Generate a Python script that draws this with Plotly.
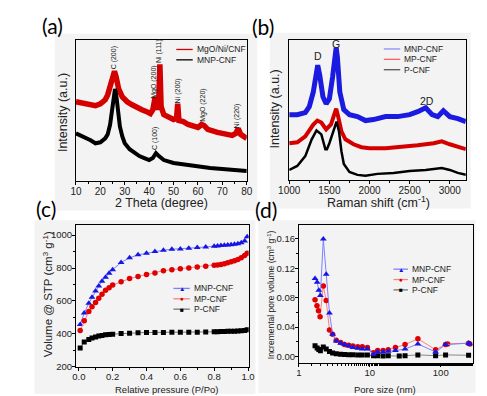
import plotly.graph_objects as go

W, H = 487, 396


def px(x):
    return x / W


def py(y):
    return 1 - y / H


# ---------------- (a) XRD ----------------
a_theta_red = [10, 12, 14, 16, 18, 20, 22, 23, 24, 25, 25.8, 26.5, 27.5, 29, 31, 33, 35, 37, 39, 40.5,
               41.5, 42.5, 43.3, 43.9, 44.4, 44.9, 46, 48, 50, 51.2, 51.7, 52.2, 54, 56, 58, 60, 61.5,
               62.5, 64, 66, 68, 70, 72, 74, 75.5, 76.5, 77.5, 80]
a_int_red = [80, 79, 78, 77, 76, 78, 82, 87, 95, 103, 111, 105, 93, 85, 80, 77, 74, 72, 70, 68,
             72, 85, 72, 80, 118, 75, 67, 65, 62, 63, 78, 61, 60, 57, 56, 54, 57,
             56, 52, 50, 49, 48, 47, 46, 48, 53, 47, 43]
a_theta_blk = [10, 12, 14, 16, 18, 20, 22, 23, 24, 25, 25.6, 26, 26.5, 27, 28, 29, 30, 32, 34, 36, 38,
               40, 41.5, 42.8, 44, 46, 50, 55, 60, 65, 70, 75, 80]
a_int_blk = [48, 46, 44, 41, 38, 39, 43, 47, 57, 75, 89, 93, 87, 75, 55, 45, 38, 32, 28, 25, 23,
             21, 23, 28, 25, 21, 18, 16, 14, 13, 12, 11, 10]
a_peak_labels = ["C (200)", "MgO (200)", "Ni (111)", "Ni (200)", "MgO (220)", "Ni (220)", "C (100)"]
a_peak_x = [25.6, 41.9, 44.3, 51.6, 62.1, 76.0, 42.7]
a_peak_y = [124, 100, 131, 91, 76, 65, 43]

# ---------------- (b) Raman ----------------
b_shift_mnp = [1000, 1100, 1200, 1250, 1300, 1340, 1355, 1380, 1420, 1460, 1500, 1540, 1570, 1585, 1600,
               1630, 1680, 1750, 1850, 1950, 2050, 2200, 2350, 2500, 2600, 2700, 2780, 2850, 2920, 3000,
               3100, 3200]
b_int_mnp = [66, 66, 68, 74, 89, 112, 116, 106, 84, 77, 82, 104, 129, 134, 124,
             89, 71, 66, 64, 60, 61, 64, 64, 66, 69, 73, 66, 64, 70, 64,
             62, 59]
b_shift_mp = [1000, 1100, 1200, 1300, 1350, 1400, 1460, 1520, 1560, 1585, 1610, 1650, 1700, 1800, 1900,
              2000, 2200, 2400, 2600, 2800, 2900, 3000, 3100, 3200]
b_int_mp = [37, 38, 44, 56, 60, 58, 51, 56, 66, 72, 64, 49, 41, 36, 33,
            32, 32, 33, 35, 37, 39, 36, 33, 31]
b_shift_p = [1000, 1100, 1200, 1280, 1340, 1400, 1450, 1470, 1500, 1550, 1590, 1620, 1650, 1680, 1750,
             1850, 1950, 2100, 2300, 2500, 2700, 2900, 3000, 3100, 3200]
b_int_p = [10, 14, 24, 41, 50, 46, 31, 31, 37, 49, 59, 49, 29, 16, 8,
           5, 4, 6, 7, 9, 10, 12, 10, 7, 5]
b_peak_labels = ["D", "G", "2D"]
b_peak_x = [1355, 1585, 2710]
b_peak_y = [125, 138, 80]

# ---------------- (c) N2 isotherms ----------------
c_p = [0.008, 0.032, 0.059, 0.078, 0.099, 0.118, 0.137, 0.158, 0.179, 0.2, 0.25, 0.30, 0.35, 0.40, 0.45,
       0.50, 0.55, 0.60, 0.65, 0.70, 0.75, 0.80, 0.82, 0.84, 0.86, 0.88, 0.90, 0.92, 0.94, 0.96, 0.98, 0.995]
c_mnp = [456, 526, 586, 622, 660, 690, 720, 744, 768, 790, 834, 862, 880, 890, 900,
         908, 914, 916, 920, 924, 928, 932, 934, 936, 938, 940, 942, 945, 948, 954, 964, 990]
c_mp = [420, 480, 536, 564, 590, 616, 640, 664, 680, 696, 716, 736, 748, 760, 770,
        784, 790, 796, 800, 806, 810, 816, 818, 822, 826, 832, 838, 844, 852, 862, 876, 890]
c_pcnf = [314, 350, 366, 374, 380, 386, 390, 394, 396, 398, 402, 404, 406, 408, 408,
          408, 410, 410, 410, 410, 411, 412, 413, 414, 414, 415, 416, 416, 417, 418, 420, 424]

# ---------------- (d) pore size distribution ----------------
d_size_mnp = [1.69, 1.81, 1.91, 2.01, 2.21, 2.43, 2.70, 2.99, 3.36, 3.88, 4.40, 5.05, 5.78, 6.76, 7.83,
              9.25, 11.3, 12.9, 15.4, 18.2, 23, 31.4, 47.6, 84.6, 117, 247, 258]
d_vol_mnp = [0.106, 0.101, 0.090, 0.083, 0.160, 0.112, 0.059, 0.030, 0.021, 0.018, 0.016, 0.014, 0.012,
             0.011, 0.010, 0.010, 0.003, 0.006, 0.006, 0.007, 0.008, 0.010, 0.017, 0.006, 0.016, 0.018, 0.017]
d_size_mp = [1.69, 1.80, 1.89, 1.99, 2.21, 2.43, 2.70, 2.99, 3.36, 3.88, 4.40, 5.05, 5.78, 6.76, 7.83,
             9.25, 11.3, 12.9, 15.4, 18.2, 23, 31.4, 47.6, 84.6, 117, 125, 247, 258]
d_vol_mp = [0.077, 0.069, 0.062, 0.054, 0.096, 0.076, 0.036, 0.030, 0.022, 0.019, 0.016, 0.015, 0.014,
            0.013, 0.013, 0.012, 0.005, 0.008, 0.008, 0.009, 0.012, 0.016, 0.024, 0.009, 0.016, 0.017,
            0.018, 0.017]
d_size_p = [1.69, 1.81, 1.91, 2.01, 2.21, 2.43, 2.70, 2.99, 3.36, 3.88, 4.40, 5.05, 5.78, 6.76, 7.83,
            9.25, 11.3, 12.9, 15.4, 18.2, 26, 31.4, 47.6, 84.6, 117, 247]
d_vol_p = [0.0146, 0.0115, 0.0092, 0.0078, 0.0128, 0.0101, 0.0065, 0.0047, 0.0037, 0.0030, 0.0027,
           0.0023, 0.0023, 0.0020, 0.0020, 0.0020, 0.0010, 0.0010, 0.0006, 0.0010, 0.0004, 0.0010,
           0.0020, 0.0010, 0.0020, 0.0015]

RED = "#d40000"
BLUE = "#1a1ae0"
BLK = "#000000"
FONT = "Liberation Sans, Arial, sans-serif"

fig = go.Figure()

# (a)
fig.add_trace(go.Scatter(x=a_theta_red, y=a_int_red, mode="lines", line=dict(color=RED, width=5.5),
                         xaxis="x", yaxis="y", showlegend=False))
fig.add_trace(go.Scatter(x=a_theta_blk, y=a_int_blk, mode="lines", line=dict(color=BLK, width=4),
                         xaxis="x", yaxis="y", showlegend=False))
# (b)
fig.add_trace(go.Scatter(x=b_shift_mnp, y=b_int_mnp, mode="lines", line=dict(color=BLUE, width=5),
                         xaxis="x2", yaxis="y2", showlegend=False))
fig.add_trace(go.Scatter(x=b_shift_mp, y=b_int_mp, mode="lines", line=dict(color=RED, width=4),
                         xaxis="x2", yaxis="y2", showlegend=False))
fig.add_trace(go.Scatter(x=b_shift_p, y=b_int_p, mode="lines", line=dict(color=BLK, width=2.5),
                         xaxis="x2", yaxis="y2", showlegend=False))
# (c)
fig.add_trace(go.Scatter(x=c_p, y=c_mnp, mode="lines+markers", line=dict(color="#7f7fff", width=1),
                         marker=dict(symbol="triangle-up", size=6, color="#1515e6"),
                         xaxis="x3", yaxis="y3", showlegend=False))
fig.add_trace(go.Scatter(x=c_p, y=c_mp, mode="lines+markers", line=dict(color="#ff7f7f", width=1),
                         marker=dict(symbol="circle", size=5.5, color="#e00000"),
                         xaxis="x3", yaxis="y3", showlegend=False))
fig.add_trace(go.Scatter(x=c_p, y=c_pcnf, mode="lines+markers", line=dict(color="#777777", width=1),
                         marker=dict(symbol="square", size=5, color="#000000"),
                         xaxis="x3", yaxis="y3", showlegend=False))
# (d)
fig.add_trace(go.Scatter(x=d_size_p, y=d_vol_p, mode="lines+markers", line=dict(color="#888888", width=1),
                         marker=dict(symbol="square", size=5, color="#000000"),
                         xaxis="x4", yaxis="y4", showlegend=False))
fig.add_trace(go.Scatter(x=d_size_mp, y=d_vol_mp, mode="lines+markers", line=dict(color="#ff7f7f", width=1),
                         marker=dict(symbol="circle", size=5.5, color="#e00000"),
                         xaxis="x4", yaxis="y4", showlegend=False))
fig.add_trace(go.Scatter(x=d_size_mnp, y=d_vol_mnp, mode="lines+markers", line=dict(color="#7f7fff", width=1),
                         marker=dict(symbol="triangle-up", size=6, color="#1515e6"),
                         xaxis="x4", yaxis="y4", showlegend=False))


def axis_common(**kw):
    d = dict(showline=True, linecolor="black", linewidth=1, mirror=True, showgrid=False, zeroline=False,
             ticks="outside", ticklen=3, tickcolor="black", ticklabelstandoff=-2,
             tickfont=dict(family=FONT, size=10, color="#222"))
    d.update(kw)
    return d


layout = dict(
    width=W, height=H, margin=dict(l=0, r=0, t=0, b=0),
    paper_bgcolor="white", plot_bgcolor="white", showlegend=False,
    xaxis=axis_common(domain=[px(59), px(236)], range=[10, 80], anchor="y", dtick=10,
                      minor=dict(dtick=5, ticks="outside", ticklen=2, tickcolor="black")),
    yaxis=axis_common(domain=[py(175), py(32)], range=[0, 143], anchor="x", showticklabels=False, ticks=""),
    xaxis2=axis_common(domain=[px(280), px(463)], range=[1000, 3200], anchor="y2", dtick=500,
                       minor=dict(dtick=250, ticks="outside", ticklen=2, tickcolor="black")),
    yaxis2=axis_common(domain=[py(174), py(32)], range=[0, 142], anchor="x2", showticklabels=False, ticks=""),
    xaxis3=axis_common(domain=[px(59), px(238)], range=[-0.017, 1.004], anchor="y3", tickvals=[0, 0.2, 0.4, 0.6, 0.8, 1.0],
                       tickformat=".1f", tickfont=dict(family=FONT, size=9.5, color="#222"),
                       minor=dict(tickvals=[0.1, 0.3, 0.5, 0.7, 0.9], ticks="outside", ticklen=2, tickcolor="black")),
    yaxis3=axis_common(domain=[py(363.3), py(220)], range=[200, 1060], anchor="x3", tickvals=[200, 400, 600, 800, 1000],
                       tickfont=dict(family=FONT, size=9.5, color="#222"),
                       minor=dict(tickvals=[300, 500, 700, 900], ticks="outside", ticklen=2, tickcolor="black")),
    xaxis4=axis_common(domain=[px(290), px(470)], type="log", range=[0, 2.449], anchor="y4", tickvals=[1, 10, 100],
                       ticktext=["1", "10", "100"], tickfont=dict(family=FONT, size=9.5, color="#222"),
                       minor=dict(ticks="outside", ticklen=2, tickcolor="black")),
    yaxis4=axis_common(domain=[py(359.3), py(220)], range=[-0.0087, 0.1786], anchor="x4",
                       tickvals=[0, 0.04, 0.08, 0.12, 0.16], tickformat=".2f",
                       tickfont=dict(family=FONT, size=9.5, color="#222"),
                       minor=dict(tickvals=[0.02, 0.06, 0.10, 0.14], ticks="outside", ticklen=2, tickcolor="black")),
)
fig.update_layout(**layout)

# light grey panel backgrounds
shapes = []
for (x0, y0, x1, y1) in [(37, 26, 247, 205), (260, 25, 468, 203), (16, 215, 245, 391), (248, 215, 473, 390)]:
    shapes.append(dict(type="rect", xref="paper", yref="paper", x0=px(x0), x1=px(x1), y0=py(y1), y1=py(y0),
                       fillcolor="#f3f3f3", line=dict(width=0), layer="below"))

annotations = []


def ann(text, x, y, size, rot=0, color="#222", family=FONT, xanchor="center", xref="paper", yref="paper"):
    annotations.append(dict(text=text, x=x, y=y, xref=xref, yref=yref, showarrow=False, textangle=rot,
                            xanchor=xanchor, yanchor="middle", font=dict(family=family, size=size, color=color)))


# panel labels
for lab, (x, y) in zip(["(a)", "(b)", "(c)", "(d)"], [(35, 18), (253, 19), (28, 203), (256, 204)]):
    ann(lab, px(x), py(y), 21, family="Lato, Open Sans, sans-serif", color="black")

# axis titles
ann("2 Theta (degree)", px(148), py(197), 12.5)
ann("Intensity (a.u.)", px(45), py(106), 12.5, rot=-90)
ann("Raman shift (cm<sup>-1</sup>)", px(373), py(196), 12.5)
ann("Intensity (a.u.)", px(265), py(102), 12.5, rot=-90)
ann("Volume @ STP (cm<sup>3</sup> g<sup>-1</sup>)", px(30), py(290), 11.5, rot=-90)
ann("Relative pressure (P/Po)", px(153), py(386), 9.5)
ann("Incremental pore volume (cm<sup>3</sup> g<sup>-1</sup>)", px(261), py(290), 8.5, rot=-90)
ann("Pore size (nm)", px(379), py(386), 9.5)

# peak labels
for t, x, y in zip(a_peak_labels, a_peak_x, a_peak_y):
    ann(t, x, y, 7, rot=-90, xref="x", yref="y")
for t, x, y in zip(b_peak_labels, b_peak_x, b_peak_y):
    ann(t, x, y, 10.5, xref="x2", yref="y2")


# manual legends
def legend(entries, x0, x1, xt, ys, size):
    for (name, lcol, mcol, sym), y in zip(entries, ys):
        shapes.append(dict(type="line", xref="paper", yref="paper", x0=px(x0), x1=px(x1), y0=py(y), y1=py(y),
                           line=dict(color=lcol, width=1.3)))
        if sym:
            ann(sym, px((x0 + x1) / 2), py(y), 6.5, color=mcol)
        ann(name, px(xt), py(y), size, xanchor="left")


legend([("MgO/Ni/CNF", RED, None, None), ("MNP-CNF", BLK, None, None)], 163, 180, 182, [42, 52.5], 8.5)
legend([("MNP-CNF", "#8c8cff", None, None), ("MP-CNF", "#ff6060", None, None), ("P-CNF", "#555", None, None)],
       378, 395, 397, [41.5, 52, 62.5], 8.5)
legend([("MNP-CNF", "#7f7fff", "#1515e6", "▲"), ("MP-CNF", "#ff7f7f", "#e00000", "●"), ("P-CNF", "#777", "#000", "■")],
       160, 177, 179, [284, 294.5, 305], 8.5)
legend([("MNP-CNF", "#7f7fff", "#1515e6", "▲"), ("MP-CNF", "#ff7f7f", "#e00000", "●"), ("P-CNF", "#777", "#000", "■")],
       388, 403, 405, [264.5, 275, 285.5], 8.5)

fig.update_layout(shapes=shapes, annotations=annotations)
fig.write_html("out.html")
